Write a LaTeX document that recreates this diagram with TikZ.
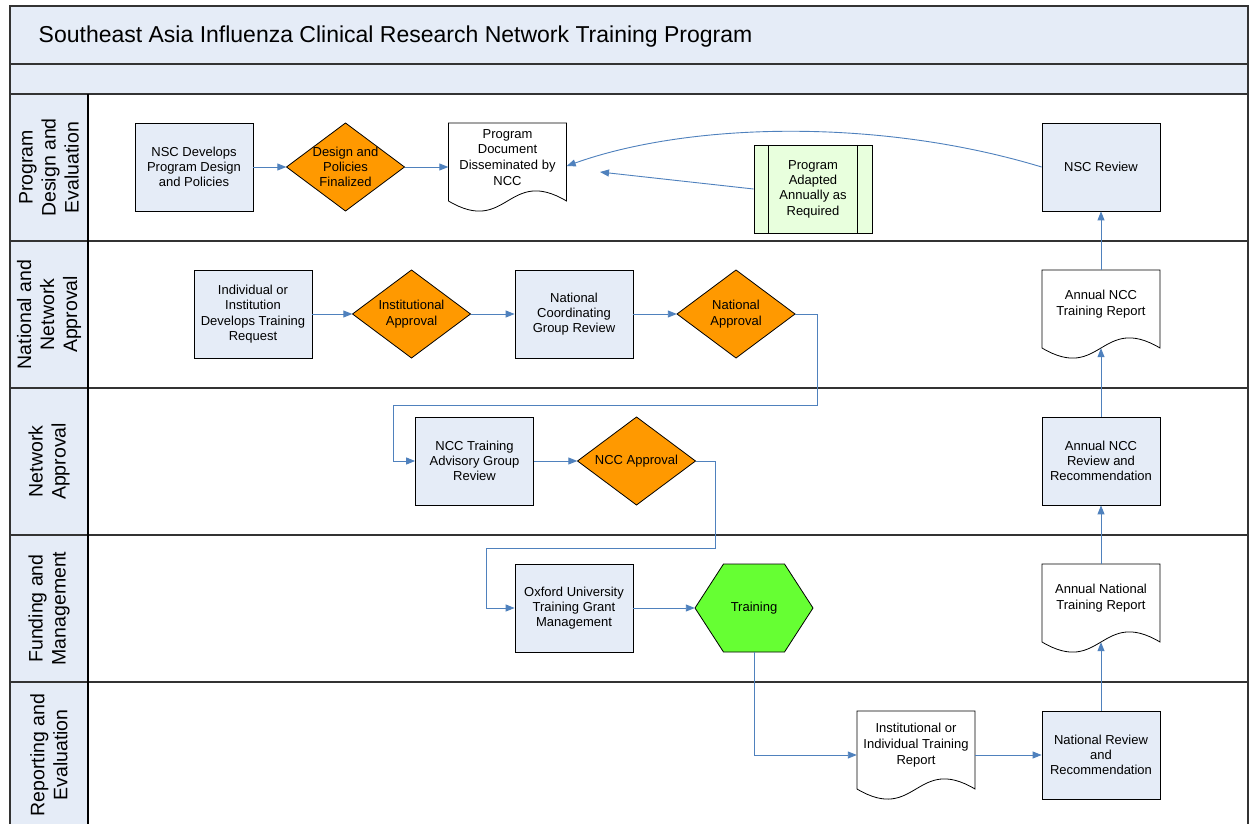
\documentclass[tikz,border=0pt]{standalone}
\usepackage{fontspec}
\setmainfont{Liberation Sans}
\usetikzlibrary{arrows.meta,calc}
\definecolor{lanefill}{HTML}{E5ECF7}
\definecolor{boxfill}{HTML}{E5ECF7}
\definecolor{orangefill}{HTML}{FF9900}
\definecolor{hexfill}{HTML}{66FF33}
\definecolor{predfill}{HTML}{E8FFDD}
\definecolor{connblue}{HTML}{4F81BD}
\definecolor{frame}{HTML}{333333}
\tikzset{
  txt/.style={align=center, font=\fontsize{13}{15.3}\selectfont, text=black, inner sep=0pt},
  doctxt/.style={align=center, font=\fontsize{13}{15.9}\selectfont, text=black, inner sep=0pt},
  proc/.style={txt, draw=black, fill=boxfill, minimum width=118pt, minimum height=88pt, line width=0.8pt},
  holder/.style={txt, minimum width=118pt, minimum height=88pt},
  shapeline/.style={draw=black, line width=0.8pt},
  conn/.style={draw=connblue, line width=0.9pt, -{Triangle[length=9pt,width=7pt]}},
  laneline/.style={draw=frame, line width=1.7pt},
  lanelabel/.style={align=center, rotate=90, font=\fontsize{19.5}{23}\selectfont, inner sep=0pt},
}
\newcommand\decision[4]{%
  \filldraw[shapeline, fill=orangefill] (#2-59,#3) -- (#2,#3-44) -- (#2+59,#3) -- (#2,#3+44) -- cycle;
  \node[holder] (#1) at (#2,#3) {#4};
}
\newcommand\docnode[4]{%
  \filldraw[shapeline, fill=white] (#2-59,#3) -- (#2-59,#3+78) .. controls (#2,#3+113) and (#2,#3+43) .. (#2+59,#3+78) -- (#2+59,#3) -- cycle;
  \node[txt, minimum width=118pt, minimum height=78pt] (#1) at (#2,#3+39) {};
  \node[doctxt] (#1t) at (#2,#3+34.5) {#4};
}
\begin{document}
\begin{tikzpicture}[x=1pt,y=-1pt]
\clip (0,0) rectangle (1253,824);
\fill[white] (0,0) rectangle (1253,824);
% bands
\fill[lanefill] (10,6) rectangle (1248,94);
\fill[lanefill] (10,94) rectangle (88,830);
\draw[laneline] (10,64) -- (1248,64);
\foreach \yy in {94,241,388,535,682} \draw[laneline] (10,\yy) -- (1248,\yy);
\draw[laneline] (10,830) -- (10,6) -- (1248,6) -- (1248,830);
\draw[draw=black, line width=1.2pt] (88,94) -- (88,830);
% title
\node[anchor=base west, font=\fontsize{23}{26}\selectfont, inner sep=0pt] (title) at (38.5,43) {Southeast Asia Influenza Clinical Research Network Training Program};
% lane labels
\node[lanelabel] (l1) at (49,167.5) {Program\\Design and\\Evaluation};
\node[lanelabel] (l2) at (49,314.5) {National and\\Network\\Approval};
\node[lanelabel] (l3) at (49,461.5) {Network\\Approval};
\node[lanelabel] (l4) at (49,608.5) {Funding and\\Management};
\node[lanelabel] (l5) at (49,755) {Reporting and\\Evaluation};
% lane 1
\node[proc] (nscdev) at (194,167) {NSC Develops\\Program Design\\and Policies};
\decision{design}{345.5}{167}{Design and\\Policies\\Finalized}
\docnode{progdoc}{507.5}{123}{Program\\Document\\Disseminated by\\NCC}
\node[proc, fill=predfill] (adapt) at (813,189) {Program\\Adapted\\Annually as\\Required};
\draw[shapeline] (768.5,145) -- (768.5,233) (857.5,145) -- (857.5,233);
\node[proc] (nscrev) at (1101,167) {NSC Review};
% lane 2
\node[proc] (indiv) at (253,314) {Individual or\\Institution\\Develops Training\\Request};
\decision{instapp}{411.5}{314}{Institutional\\Approval}
\node[proc] (natcoord) at (574,314) {National\\Coordinating\\Group Review};
\decision{natapp}{736}{314}{National\\Approval}
\docnode{ncctrep}{1101}{270}{Annual NCC\\Training Report}
% lane 3
\node[proc] (nccadv) at (474.5,461) {NCC Training\\Advisory Group\\Review};
\decision{nccapp}{636.5}{461}{NCC Approval}
\node[proc] (nccrev) at (1101,461) {Annual NCC\\Review and\\Recommendation};
% lane 4
\node[proc] (oxford) at (574,608) {Oxford University\\Training Grant\\Management};
\filldraw[shapeline, fill=hexfill] (695,608) -- (723.5,564) -- (784.5,564) -- (813,608) -- (784.5,652) -- (723.5,652) -- cycle;
\node[holder] (training) at (754,608) {Training};
\docnode{natrep}{1101}{564}{Annual National\\Training Report}
% lane 5
\docnode{instrep}{916}{711}{Institutional or\\Individual Training\\Report}
\node[proc] (natrev) at (1101,755) {National Review\\and\\Recommendation};
% connectors
\draw[conn] (nscdev.east) -- (design.west);
\draw[conn] (design.east) -- (design.east -| progdoc.west);
\coordinate (adapttip) at (600,172);
\draw[conn] (adapt.west) -- (adapttip);
\draw[conn] (nscrev.west) .. controls (880,118) and (690,122) .. ($(progdoc.east)+(0,4)$);
\draw[conn] (ncctrep.north) -- (nscrev.south);
\draw[conn] (indiv.east) -- (instapp.west);
\draw[conn] (instapp.east) -- (natcoord.west);
\draw[conn] (natcoord.east) -- (natapp.west);
\draw[conn] (natapp.east) -- ++(22,0) |- (393,405) |- (nccadv.west);
\draw[conn] (nccadv.east) -- (nccapp.west);
\draw[conn] (nccapp.east) -- ++(20,0) |- (486,548) |- (oxford.west);
\draw[conn] (oxford.east) -- (training.west);
\draw[conn] (nccrev.north) -- (ncctrep.south);
\draw[conn] (natrep.north) -- (nccrev.south);
\draw[conn] (natrev.north) -- (natrep.south);
\draw[conn] (training.south) |- (natrev.west -| instrep.west);
\draw[conn] (natrev.west -| instrep.east) -- (natrev.west);
\end{tikzpicture}
\end{document}
